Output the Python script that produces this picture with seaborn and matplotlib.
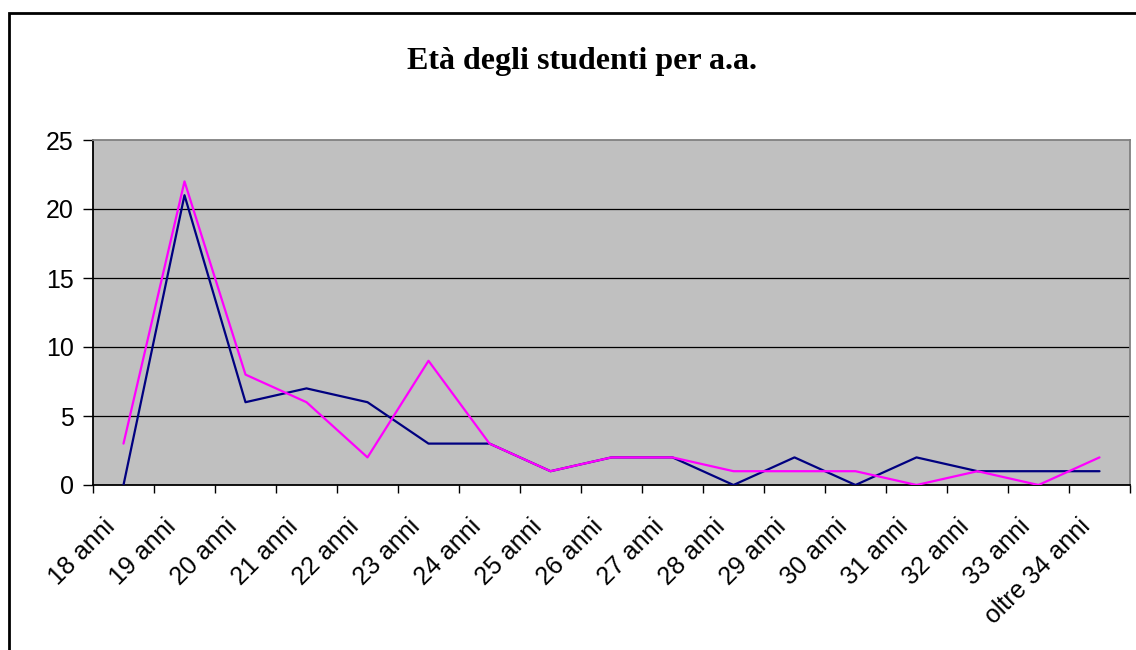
import matplotlib
matplotlib.use("Agg")
import matplotlib.pyplot as plt
import matplotlib.transforms as mtransforms
import seaborn as sns
import pandas as pd
from matplotlib.patches import Rectangle

categories = ["18 anni", "19 anni", "20 anni", "21 anni", "22 anni", "23 anni",
              "24 anni", "25 anni", "26 anni", "27 anni", "28 anni", "29 anni",
              "30 anni", "31 anni", "32 anni", "33 anni", "oltre 34 anni"]
serie_blu = [0, 21, 6, 7, 6, 3, 3, 1, 2, 2, 0, 2, 0, 2, 1, 1, 1]
serie_magenta = [3, 22, 8, 6, 2, 9, 3, 1, 2, 2, 1, 1, 1, 0, 1, 0, 2]
y_ticks = [0, 5, 10, 15, 20, 25]

sns.set_theme(style="white")
plt.rcParams["font.family"] = ["Liberation Sans", "DejaVu Sans"]
plt.rcParams["text.color"] = "black"
plt.rcParams["xtick.color"] = "black"
plt.rcParams["ytick.color"] = "black"

n = len(categories)
df = pd.DataFrame({
    "pos": list(range(n)) * 2,
    "valore": serie_blu + serie_magenta,
    "serie": ["a"] * n + ["b"] * n,
})

fig = plt.figure(figsize=(11.36, 6.5), dpi=100)
ax = fig.add_axes([93 / 1136, 165 / 650, 1037 / 1136, 345 / 650])
ax.set_facecolor("#C0C0C0")

sns.lineplot(data=df, x="pos", y="valore", hue="serie",
             palette={"a": "#000080", "b": "#FF00FF"},
             linewidth=1.6, legend=False, ax=ax, zorder=3)

ax.set_xlim(-0.5, n - 0.5)
ax.set_ylim(0, 25)
ax.set_yticks(y_ticks)
ax.set_yticklabels([str(v) for v in y_ticks], fontsize=18)
for v in y_ticks[1:-1]:
    ax.axhline(v, color="black", linewidth=0.9, zorder=1)

# tick marks on the category boundaries
ax.set_xticks([i - 0.5 for i in range(n + 1)])
ax.set_xticklabels([])
ax.tick_params(axis="x", which="major", length=6, width=1, color="black",
               direction="out", bottom=True)
ax.tick_params(axis="y", length=7, width=1, color="black", direction="out",
               left=True, pad=7)

# rotated category labels, anchored by their top-right corner
offset = mtransforms.ScaledTranslation(-0.21, -0.29, fig.dpi_scale_trans)
label_tr = ax.get_xaxis_transform() + offset
for i, cat in enumerate(categories):
    ax.text(i, 0, cat, transform=label_tr, rotation=45, ha="right", va="top",
            rotation_mode="anchor", fontsize=18, clip_on=False)

ax.set_xlabel("")
ax.set_ylabel("")
for side in ("left", "bottom"):
    ax.spines[side].set_color("black")
    ax.spines[side].set_linewidth(1.3)
for side in ("top", "right"):
    ax.spines[side].set_color("#808080")
    ax.spines[side].set_linewidth(1.3)

fig.text(582 / 1136, 1 - 61 / 650, "Età degli studenti per a.a.",
         ha="center", va="center", fontsize=23, fontweight="bold",
         family=["Liberation Serif", "DejaVu Serif"])

fig.patches.append(Rectangle((9 / 1136, -0.1), 1.2, 1 - 13 / 650 + 0.1,
                             transform=fig.transFigure, fill=False,
                             edgecolor="black", linewidth=2))

fig.savefig("out.png", dpi=100, facecolor="white")
